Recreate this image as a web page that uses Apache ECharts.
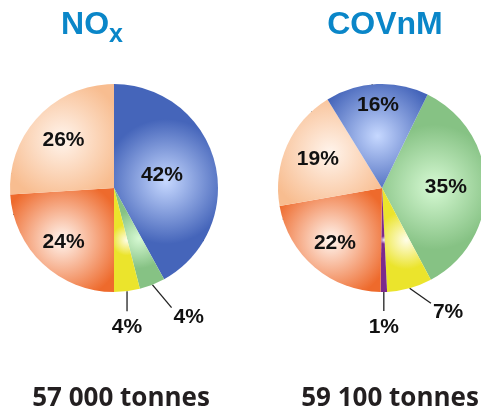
<!DOCTYPE html>
<html>
<head>
<meta charset="utf-8">
<script src="https://cdn.jsdelivr.net/npm/echarts@6/dist/echarts.min.js"></script>
<style>
html, body { margin: 0; padding: 0; background: #fff; }
#chart { width: 481px; height: 410px; }
</style>
</head>
<body>
<div id="chart"></div>
<script>
// shares (%) per sector, clockwise from the first slice
const noxSectors = ['bleu', 'vert', 'jaune', 'orange', 'peche'];
const noxShares = [42, 4, 4, 24, 26];
const covSectors = ['vert', 'jaune', 'violet', 'orange', 'peche', 'bleu'];
const covShares = [35, 7, 1, 22, 19, 16];
const totals = ['57 000 tonnes', '59 100 tonnes'];

// slice colours: [centre, edge]
const sectorColors = {
    bleu: ['#c6d8ff', '#4565ba'],
    vert: ['#d6f9d3', '#86c284'],
    jaune: ['#fffde8', '#ebe42c'],
    violet: ['#f3e9f7', '#7b2a8d'],
    orange: ['#fff5ef', '#ee6a2c'],
    peche: ['#fff4ec', '#f8bd90']
};

const titleColor = '#0a86c8';
const pieRadius = 104;

// where the inside labels sit, as a fraction of the radius
const noxLabelR = { bleu: 0.45, orange: 0.67, peche: 0.63 };
const covLabelR = { vert: 0.58, bleu: 0.75, orange: 0.66, peche: 0.64 };
// leader lines of the small slices: [length, angle from straight down (deg)]
const noxLeader = { vert: [30, 40], jaune: [20, 0] };
const covLeader = { violet: [19, 0], jaune: [26, 55] };

const pies = [
    { sectors: noxSectors, shares: noxShares, center: [114, 188], start: 90, labelR: noxLabelR, leader: noxLeader },
    { sectors: covSectors, shares: covShares, center: [382, 188], start: 64, labelR: covLabelR, leader: covLeader }
];

function sliceColor(name) {
    const c = sectorColors[name];
    return {
        type: 'radial', x: 0.5, y: 0.5, r: 0.6,
        colorStops: [
            { offset: 0, color: c[0] },
            { offset: 1, color: c[1] }
        ]
    };
}

function buildSeries(pie) {
    const data = pie.sectors.map(function (name, i) {
        const item = { name: name, value: pie.shares[i], itemStyle: { color: sliceColor(name) } };
        if (pie.shares[i] < 10) {
            item.label = { position: 'outside' };
            item.labelLine = { show: true, length: 20, length2: 0 };
        }
        return item;
    });
    return {
        type: 'pie',
        center: pie.center,
        radius: [0, pieRadius],
        startAngle: pie.start,
        clockwise: true,
        avoidLabelOverlap: false,
        silent: true,
        data: data,
        label: {
            position: 'inside',
            formatter: '{c}%',
            fontFamily: 'Liberation Sans',
            fontSize: 21,
            fontWeight: 'bold',
            color: '#111'
        },
        labelLine: {
            lineStyle: { color: '#222', width: 1.3 }
        },
        labelLayout: function (p) {
            const name = pie.sectors[p.dataIndex];
            const rect = p.labelRect;
            if (pie.shares[p.dataIndex] >= 10) {
                const f = pie.labelR[name] / 0.5;
                const lx = rect.x + rect.width / 2;
                const ly = rect.y + rect.height / 2;
                return {
                    x: pie.center[0] + (lx - pie.center[0]) * f,
                    y: pie.center[1] + (ly - pie.center[1]) * f,
                    align: 'center',
                    verticalAlign: 'middle'
                };
            }
            // leader starts on the slice edge, goes down or down-right
            const a = p.labelLinePoints[0];
            const spec = pie.leader[name];
            const ang = spec[1] * Math.PI / 180;
            const b = [a[0] + spec[0] * Math.sin(ang), a[1] + spec[0] * Math.cos(ang)];
            const slanted = spec[1] > 0;
            return {
                x: slanted ? b[0] + 2 : b[0],
                y: slanted ? b[1] - 1 : b[1] + 6,
                align: slanted ? 'left' : 'center',
                verticalAlign: 'top',
                labelLinePoints: [a, b, b]
            };
        }
    };
}

const chart = echarts.init(document.getElementById('chart'));

chart.setOption({
    animation: false,
    backgroundColor: '#fff',
    graphic: [
        {
            type: 'text', x: 92, y: 2,
            style: {
                text: '{m|NO}{s|x}',
                align: 'center',
                rich: {
                    m: { fontFamily: 'Liberation Sans', fontSize: 32, fontWeight: 'bold', fill: titleColor, lineHeight: 46 },
                    s: { fontFamily: 'Liberation Sans', fontSize: 25, fontWeight: 'bold', fill: titleColor, lineHeight: 6, verticalAlign: 'bottom' }
                }
            }
        },
        {
            type: 'text', x: 385, y: 6,
            style: {
                text: 'COVnM',
                align: 'center',
                fontFamily: 'Liberation Sans', fontSize: 32, fontWeight: 'bold', fill: titleColor, lineHeight: 38
            }
        },
        {
            type: 'text', x: 121, y: 399,
            style: {
                text: totals[0], align: 'center', verticalAlign: 'middle',
                fontFamily: 'Open Sans', fontSize: 26, fontWeight: 'bold', fill: '#231f20'
            }
        },
        {
            type: 'text', x: 390, y: 399,
            style: {
                text: totals[1], align: 'center', verticalAlign: 'middle',
                fontFamily: 'Open Sans', fontSize: 26, fontWeight: 'bold', fill: '#231f20'
            }
        }
    ],
    series: pies.map(buildSeries)
});
</script>
</body>
</html>
